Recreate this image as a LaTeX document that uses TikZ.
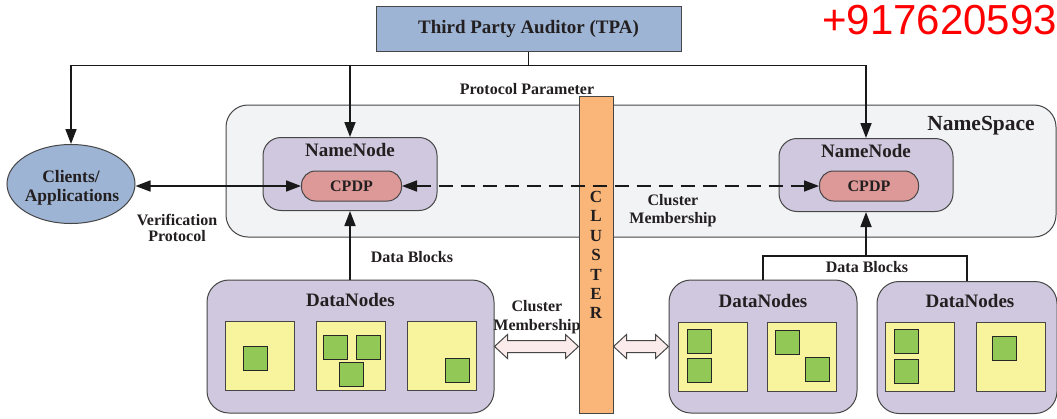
\documentclass[tikz,border=0pt]{standalone}
\usepackage{fontspec}
\setmainfont{Liberation Serif}
\newfontfamily\redfont{Liberation Sans}
\usetikzlibrary{arrows.meta,shapes.geometric,calc}
\definecolor{tpablue}{RGB}{157,180,212}
\definecolor{lav}{RGB}{208,200,222}
\definecolor{cpdppink}{RGB}{221,153,151}
\definecolor{clorange}{RGB}{249,182,120}
\definecolor{yel}{RGB}{247,244,157}
\definecolor{grn}{RGB}{146,200,86}
\definecolor{nsgray}{RGB}{242,243,245}
\definecolor{fatpink}{RGB}{252,235,235}
\definecolor{bordergray}{RGB}{70,70,70}
\definecolor{txt}{RGB}{35,31,32}
\definecolor{phonered}{RGB}{255,0,0}
\newcommand\myfs[1]{\fontsize{#1}{#1}\selectfont}
\newcommand\fatarrow[2]{%
  \draw[fat] let \p1=(#1), \p2=(#2) in
    (\x1,\y1) -- (\x1+13pt,\y1+12pt) -- (\x1+13pt,\y1+6pt) -- (\x2-13pt,\y1+6pt)
    -- (\x2-13pt,\y1+12pt) -- (\x2,\y1) -- (\x2-13pt,\y1-12pt) -- (\x2-13pt,\y1-6pt)
    -- (\x1+13pt,\y1-6pt) -- (\x1+13pt,\y1-12pt) -- cycle;}
\tikzset{
  box/.style={draw=bordergray, line width=1pt, inner sep=0pt},
  nsbox/.style={box, fill=nsgray, rounded corners=22pt},
  nnbox/.style={box, fill=lav, rounded corners=18pt, minimum width=174pt, minimum height=73pt},
  cpdpbox/.style={box, fill=cpdppink, rounded corners=14pt, minimum width=100pt, minimum height=30pt,
    font=\bfseries\myfs{16}, text=txt},
  dnbox/.style={box, fill=lav, rounded corners=22pt, minimum height=133pt},
  ysq/.style={draw=bordergray, line width=0.8pt, fill=yel, minimum size=69pt, inner sep=0pt},
  gsq/.style={draw=black!85, line width=0.8pt, fill=grn, minimum size=24pt, inner sep=0pt},
  title/.style={font=\bfseries\myfs{19}, text=txt, anchor=base, inner sep=0pt},
  lbl/.style={font=\bfseries\myfs{16}, text=txt, anchor=base, inner sep=0pt},
  conn/.style={line width=1.7pt, draw=black!90},
  arr/.style={conn, -{Triangle[length=15pt,width=11pt]}},
  arrr/.style={conn, {Triangle[length=15pt,width=11pt]}-{Triangle[length=15pt,width=11pt]}},
  fat/.style={draw=bordergray, line width=1pt, fill=fatpink},
}
\begin{document}
\begin{tikzpicture}[x=1pt,y=-1pt]
\useasboundingbox (0,0) rectangle (1057,418);
\fill[white] (0,0) rectangle (1057,418);

% TPA
\node[box, fill=tpablue, minimum width=305pt, minimum height=45pt, font=\bfseries\myfs{19}, text=txt] (tpa) at (528.5,28.5) {Third Party Auditor (TPA)};
\node[font=\redfont\myfs{42}, text=phonered, anchor=base west, inner sep=0pt] (phone) at (822,34) {+917620593};

% NameSpace
\node[nsbox, minimum width=830pt, minimum height=132pt] (ns) at (641,171) {};
\node[font=\bfseries\myfs{21.5}, text=txt, anchor=base, inner sep=0pt] (nslbl) at (981,130) {NameSpace};

% Cluster bar
\node[draw=bordergray, line width=1pt, fill=clorange, minimum width=34pt, minimum height=317pt, inner sep=0pt] (cluster) at (596,254.5) {};
\node[font=\bfseries\fontsize{17}{19.4}\selectfont, text=txt, align=center, inner sep=0pt] (cltxt) at (596,255) {C\\L\\U\\S\\T\\E\\R};

% Clients
\node[ellipse, draw=bordergray, line width=1pt, fill=tpablue, minimum width=128pt, minimum height=79pt, inner sep=0pt] (clients) at (71,184) {};
\node[font=\bfseries\myfs{17.5}, text=txt, anchor=base, inner sep=0pt] (clt1) at (71,182.5) {Clients/};
\node[font=\bfseries\myfs{17.5}, text=txt, anchor=base, inner sep=0pt] (clt2) at (72,201.5) {Applications};

% NameNodes
\node[nnbox] (nn1) at (350,174) {};
\node[title] (nn1t) at (350,156.5) {NameNode};
\node[cpdpbox] (cpdp1) at (351.5,186) {CPDP};
\node[nnbox] (nn2) at (866,175) {};
\node[title] (nn2t) at (866,157) {NameNode};
\node[cpdpbox, minimum width=99pt] (cpdp2) at (869,186) {CPDP};

% DataNodes
\node[dnbox, minimum width=287pt] (dn1) at (350.5,346.5) {};
\node[title] (dn1t) at (350.5,306.5) {DataNodes};
\node[dnbox, minimum width=188pt] (dn2) at (763,346.5) {};
\node[title] (dn2t) at (763,307) {DataNodes};
\node[dnbox, minimum width=180pt, minimum height=132pt] (dn3) at (967,347.5) {};
\node[title] (dn3t) at (970,307.5) {DataNodes};

% storage squares
\node[ysq] (y1) at (260,355.5) {};
\node[ysq] (y2) at (351,355.5) {};
\node[ysq] (y3) at (441.5,355.5) {};
\node[ysq] (y4) at (713,356.5) {};
\node[ysq] (y5) at (801.5,356.5) {};
\node[ysq] (y6) at (920,357) {};
\node[ysq] (y7) at (1011,357) {};
\node[gsq] (g1) at (255,358.5) {};
\node[gsq] (g2) at (335,347.5) {};
\node[gsq] (g3) at (368.5,347.5) {};
\node[gsq] (g4) at (351,374.5) {};
\node[gsq] (g5) at (457.5,370) {};
\node[gsq] (g6) at (699,341) {};
\node[gsq] (g7) at (699,370.5) {};
\node[gsq] (g8) at (787.5,342.5) {};
\node[gsq] (g9) at (817,369.5) {};
\node[gsq] (g10) at (906,341.5) {};
\node[gsq] (g11) at (906,371) {};
\node[gsq] (g12) at (1004,348.5) {};

% TPA connectors
\coordinate (bus) at ($(tpa.south)+(0,14)$);
\draw[conn] (tpa.south) -- (bus);
\draw[arr] (bus) -| (clients.north);
\draw[arr] (bus) -| (nn2.north);
\draw[arr] (bus -| nn1.north) -- (nn1.north);
\node[lbl] (pp) at (527,94) {Protocol Parameter};

% verification
\draw[arrr] (cpdp1.west) -- (cpdp1.west -| clients.east);
\node[lbl] (ver1) at (177,225.5) {Verification};
\node[lbl] (ver2) at (177,241.5) {Protocol};

% cluster membership dashed
\draw[arrr, dash pattern=on 14pt off 8pt] (cpdp1.east) -- (cpdp2.west);
\node[lbl] (cm1) at (673,205) {Cluster};
\node[lbl] (cm2) at (673,223) {Membership};

% data blocks
\draw[arr] (dn1.north -| nn1.south) -- (nn1.south);
\node[lbl] (db1) at (412,262) {Data Blocks};
\coordinate (db) at ($(nn2.south)+(0,44)$);
\draw[conn] (dn2.north) |- (db) -| (dn3.north);
\draw[arr] (db) -- (nn2.south);
\node[lbl] (db2) at (867,272) {Data Blocks};

% fat arrows
\fatarrow{dn1.east}{cluster.west |- dn1.east}
\fatarrow{cluster.east |- dn2.west}{dn2.west}
\node[lbl] (cm3) at (537,311) {Cluster};
\node[lbl] (cm4) at (537,330) {Membership};
\end{tikzpicture}
\end{document}
